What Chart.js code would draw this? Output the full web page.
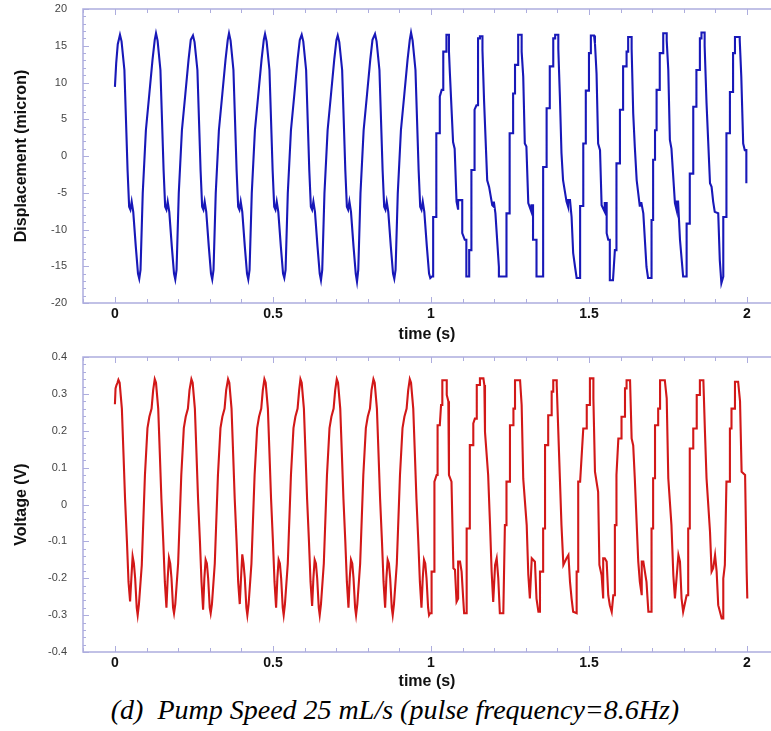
<!DOCTYPE html>
<html>
<head>
<meta charset="utf-8">
<script src="https://cdn.jsdelivr.net/npm/chart.js@4.4.1/dist/chart.umd.min.js"></script>
<style>
  body { margin: 0; background: #fff; }
  #wrap { position: relative; width: 771px; height: 731px; overflow: hidden; }
  canvas { position: absolute; left: 0; }
  #topChart { top: 0; }
  #bottomChart { top: 346px; }
  #caption {
    position: absolute; left: 0; width: 790px; top: 694px;
    text-align: center; white-space: pre; line-height: 31px;
    font-family: "Liberation Serif", "Times New Roman", serif;
    font-style: italic; font-size: 28px; color: #000;
  }
</style>
</head>
<body>
<div id="wrap">
  <canvas id="topChart" width="771" height="346"></canvas>
  <canvas id="bottomChart" width="771" height="346"></canvas>
  <div id="caption">(d)  Pump Speed 25 mL/s (pulse frequency=8.6Hz)</div>
</div>
<script>
// tick labels on the time axis
var timeTicks = [0, 0.5, 1, 1.5, 2];

// displacement (micron) vs time (s)
var displacement = [
    [0, 9.4], [0.004, 12.6], [0.009, 15.2],
    [0.016, 16.5], [0.021, 15.6], [0.030, 11.7], [0.035, 4.9], [0.040, -1.9], [0.045, -6.9], [0.049, -7.3], [0.053, -6.2], [0.058, -7.6], [0.066, -12.3], [0.073, -16.0], [0.077, -16.7], [0.081, -15.5], [0.088, -5.1], [0.098, 3.5], [0.109, 8.5], [0.119, 13.1], [0.126, 15.8],
    [0.130, 16.7], [0.135, 15.7], [0.144, 11.7], [0.149, 4.9], [0.154, -1.9], [0.159, -6.9], [0.163, -7.3], [0.167, -6.2], [0.172, -7.6], [0.180, -12.3], [0.187, -16.0], [0.191, -16.8], [0.195, -15.5], [0.202, -5.1], [0.212, 3.5], [0.223, 8.5], [0.233, 13.1], [0.240, 15.8],
    [0.247, 16.4], [0.252, 15.5], [0.261, 11.7], [0.266, 4.9], [0.271, -1.9], [0.276, -6.9], [0.280, -7.3], [0.284, -6.2], [0.289, -7.6], [0.297, -12.3], [0.304, -16.0], [0.308, -16.8], [0.312, -15.5], [0.319, -5.1], [0.329, 3.5], [0.340, 8.5], [0.350, 13.1], [0.357, 15.8],
    [0.361, 16.7], [0.366, 15.7], [0.375, 11.7], [0.380, 4.9], [0.385, -1.9], [0.390, -6.9], [0.394, -7.3], [0.398, -6.2], [0.403, -7.6], [0.411, -12.3], [0.418, -16.0], [0.422, -16.8], [0.426, -15.5], [0.433, -5.1], [0.443, 3.5], [0.454, 8.5], [0.464, 13.1], [0.471, 15.8],
    [0.475, 16.6], [0.480, 15.6], [0.489, 11.7], [0.494, 4.9], [0.499, -1.9], [0.504, -6.9], [0.508, -7.3], [0.512, -6.2], [0.517, -7.6], [0.525, -12.3], [0.532, -16.0], [0.536, -16.6], [0.540, -15.5], [0.547, -5.1], [0.557, 3.5], [0.568, 8.5], [0.578, 13.1], [0.585, 15.8],
    [0.591, 16.5], [0.596, 15.6], [0.605, 11.7], [0.610, 4.9], [0.615, -1.9], [0.620, -6.9], [0.624, -7.3], [0.628, -6.2], [0.633, -7.6], [0.641, -12.3], [0.648, -16.0], [0.652, -16.9], [0.656, -15.5], [0.663, -5.1], [0.673, 3.5], [0.684, 8.5], [0.694, 13.1], [0.701, 15.8],
    [0.705, 16.4], [0.710, 15.5], [0.719, 11.7], [0.724, 4.9], [0.729, -1.9], [0.734, -6.9], [0.738, -7.3], [0.742, -6.2], [0.747, -7.6], [0.755, -12.3], [0.762, -16.0], [0.766, -17.1], [0.770, -15.5], [0.777, -5.1], [0.787, 3.5], [0.798, 8.5], [0.808, 13.1], [0.815, 15.8],
    [0.823, 16.6], [0.828, 15.6], [0.837, 11.7], [0.842, 4.9], [0.847, -1.9], [0.852, -6.9], [0.856, -7.3], [0.860, -6.2], [0.865, -7.6], [0.873, -12.3], [0.880, -16.0], [0.884, -16.7], [0.888, -15.5], [0.895, -5.1], [0.905, 3.5], [0.916, 8.5], [0.926, 13.1], [0.933, 15.8],
    [0.937, 16.8], [0.942, 15.7], [0.951, 11.7], [0.956, 4.9], [0.961, -1.9], [0.966, -6.9], [0.970, -7.3], [0.974, -6.2], [0.979, -7.6], [0.987, -12.3], [0.994, -16.0], [0.998, -16.6], [1.003, -16.4],
    // second half: stair-stepped signal
    [1.007, -16.4], [1.007, -8.3], [1.017, -8.3], [1.017, 3.1], [1.028, 3.1], [1.028, 8.1], [1.034, 9.0], [1.039, 9.0], [1.039, 14.2], [1.049, 14.2], [1.049, 16.5], [1.057, 16.5], [1.057, 14.2], [1.060, 11.2], [1.070, 1.9], [1.075, 1.0], [1.081, -6.2], [1.086, -7.3], [1.086, -6.0], [1.099, -6.0], [1.099, -10.5], [1.107, -11.4], [1.112, -11.4], [1.112, -16.4],
    [1.121, -16.4], [1.121, -12.8], [1.128, -12.8], [1.128, -1.9], [1.138, -1.9], [1.138, 6.3], [1.144, 6.9], [1.149, 6.9], [1.149, 16.0], [1.155, 16.0], [1.155, 16.3], [1.163, 16.3], [1.163, 14.4], [1.168, 7.6], [1.178, -3.3], [1.184, -4.2], [1.194, -6.7], [1.199, -6.9], [1.199, -6.2], [1.204, -7.8], [1.215, -15.1], [1.215, -16.4],
    [1.239, -16.4], [1.239, -7.8], [1.249, -7.8], [1.249, 3.1], [1.260, 3.1], [1.260, 8.5], [1.266, 8.5], [1.266, 12.4], [1.276, 12.4], [1.276, 16.5], [1.287, 16.5], [1.287, 14.2], [1.292, 10.8], [1.297, 1.7], [1.302, 1.3], [1.308, -6.4], [1.318, -7.6], [1.318, -6.7], [1.323, -6.7], [1.323, -11.4], [1.334, -11.4], [1.334, -16.4],
    [1.355, -16.4], [1.355, -1.5], [1.366, -1.5], [1.366, 6.5], [1.376, 6.5], [1.376, 12.2], [1.387, 12.2], [1.387, 16.0], [1.393, 16.0], [1.393, 16.5], [1.403, 16.5], [1.403, 14.6], [1.408, 8.1], [1.413, 0.4], [1.418, -3.3], [1.429, -6.2], [1.434, -6.9], [1.434, -6.0], [1.440, -6.0], [1.445, -8.3], [1.450, -13.2], [1.456, -15.1], [1.461, -16.6],
    [1.472, -16.6], [1.472, -6.8], [1.482, -6.8], [1.482, 1.7], [1.490, 1.7], [1.490, 8.9], [1.500, 8.9], [1.500, 14.0], [1.506, 14.0], [1.506, 16.4], [1.516, 16.4], [1.519, 15.3], [1.524, 11.2], [1.529, 1.7], [1.535, 0.8], [1.540, -6.7], [1.550, -7.6], [1.550, -6.4], [1.556, -6.4], [1.556, -10.5], [1.561, -11.4], [1.566, -11.4], [1.566, -16.9], [1.576, -16.9],
    [1.582, -12.8], [1.587, -12.8], [1.587, -1.0], [1.598, -1.0], [1.598, 6.3], [1.608, 6.3], [1.608, 12.2], [1.619, 12.2], [1.619, 14.2], [1.624, 14.2], [1.624, 16.2], [1.635, 16.2], [1.635, 14.6], [1.640, 5.8], [1.645, 1.3], [1.651, -3.3], [1.661, -6.9], [1.661, -6.4], [1.666, -6.4], [1.672, -7.8], [1.682, -15.1], [1.687, -16.6],
    [1.698, -16.6], [1.698, -8.7], [1.703, -8.7], [1.703, -0.5], [1.709, -0.5], [1.709, 3.5], [1.714, 3.5], [1.714, 9.0], [1.724, 9.0], [1.724, 14.0], [1.735, 14.0], [1.735, 16.7], [1.746, 16.7], [1.746, 15.7], [1.751, 11.7], [1.756, 2.2], [1.761, 1.0], [1.772, -6.4], [1.777, -7.3], [1.777, -6.2], [1.782, -6.2], [1.788, -11.4], [1.798, -16.4],
    [1.809, -16.4], [1.809, -9.2], [1.819, -9.2], [1.819, -2.4], [1.830, -2.4], [1.830, 6.7], [1.840, 6.7], [1.840, 11.7], [1.851, 11.7], [1.851, 16.0], [1.856, 16.0], [1.856, 16.8], [1.866, 16.8], [1.866, 15.0], [1.872, 7.2], [1.883, -3.7], [1.888, -4.2], [1.893, -6.2], [1.898, -7.6], [1.909, -7.8], [1.914, -14.2], [1.919, -17.3],
    [1.925, -16.4], [1.925, -8.3], [1.935, -8.3], [1.935, 3.1], [1.946, 3.1], [1.946, 8.7], [1.956, 8.7], [1.956, 14.0], [1.962, 14.0], [1.962, 16.2], [1.977, 16.2], [1.977, 15.8], [1.982, 10.8], [1.988, 1.7], [1.993, 0.8], [1.998, 0.8], [1.998, -3.7]
];

// voltage (V) vs time (s)
var voltage = [
    [0, 0.272], [0.002, 0.315], [0.005, 0.324], [0.008, 0.33],
    [0.011, 0.338], [0.015, 0.33], [0.022, 0.26], [0.027, 0.14], [0.032, 0.017], [0.038, -0.10], [0.043, -0.21], [0.048, -0.263], [0.052, -0.20], [0.056, -0.141], [0.060, -0.16], [0.064, -0.20], [0.069, -0.28], [0.072, -0.30], [0.076, -0.27], [0.085, -0.164], [0.095, 0.08], [0.103, 0.207], [0.109, 0.238], [0.116, 0.26], [0.121, 0.31],
    [0.126, 0.34], [0.130, 0.33], [0.137, 0.26], [0.142, 0.14], [0.147, 0.017], [0.153, -0.10], [0.158, -0.21], [0.163, -0.28], [0.167, -0.20], [0.171, -0.145], [0.175, -0.16], [0.179, -0.20], [0.184, -0.28], [0.187, -0.295], [0.191, -0.27], [0.200, -0.16], [0.210, 0.08], [0.218, 0.207], [0.224, 0.238], [0.231, 0.26], [0.236, 0.31],
    [0.242, 0.34], [0.246, 0.33], [0.253, 0.26], [0.258, 0.14], [0.263, 0.017], [0.269, -0.10], [0.274, -0.21], [0.279, -0.285], [0.283, -0.20], [0.287, -0.15], [0.291, -0.16], [0.295, -0.20], [0.300, -0.28], [0.303, -0.295], [0.307, -0.27], [0.316, -0.16], [0.326, 0.08], [0.334, 0.207], [0.340, 0.238], [0.347, 0.26], [0.352, 0.31],
    [0.358, 0.34], [0.362, 0.33], [0.369, 0.26], [0.374, 0.14], [0.379, 0.017], [0.385, -0.10], [0.390, -0.21], [0.395, -0.27], [0.399, -0.20], [0.403, -0.135], [0.407, -0.16], [0.411, -0.20], [0.416, -0.28], [0.419, -0.30], [0.423, -0.27], [0.432, -0.16], [0.442, 0.08], [0.450, 0.207], [0.456, 0.238], [0.463, 0.26], [0.468, 0.31],
    [0.473, 0.34], [0.477, 0.33], [0.484, 0.26], [0.489, 0.14], [0.494, 0.017], [0.500, -0.10], [0.505, -0.21], [0.510, -0.28], [0.514, -0.20], [0.518, -0.15], [0.522, -0.16], [0.526, -0.20], [0.531, -0.28], [0.534, -0.30], [0.538, -0.27], [0.547, -0.16], [0.557, 0.08], [0.565, 0.207], [0.571, 0.238], [0.578, 0.26], [0.583, 0.31],
    [0.587, 0.34], [0.591, 0.33], [0.598, 0.26], [0.603, 0.14], [0.608, 0.017], [0.614, -0.10], [0.619, -0.21], [0.624, -0.275], [0.628, -0.20], [0.632, -0.15], [0.636, -0.16], [0.640, -0.20], [0.645, -0.28], [0.648, -0.30], [0.652, -0.27], [0.661, -0.16], [0.671, 0.08], [0.679, 0.207], [0.685, 0.238], [0.692, 0.26], [0.697, 0.31],
    [0.702, 0.34], [0.706, 0.33], [0.713, 0.26], [0.718, 0.14], [0.723, 0.017], [0.729, -0.10], [0.734, -0.21], [0.739, -0.28], [0.743, -0.20], [0.747, -0.15], [0.751, -0.16], [0.755, -0.20], [0.760, -0.28], [0.763, -0.30], [0.767, -0.27], [0.776, -0.16], [0.786, 0.08], [0.794, 0.207], [0.800, 0.238], [0.807, 0.26], [0.812, 0.31],
    [0.818, 0.34], [0.822, 0.33], [0.829, 0.26], [0.834, 0.14], [0.839, 0.017], [0.845, -0.10], [0.850, -0.21], [0.855, -0.28], [0.859, -0.20], [0.863, -0.15], [0.867, -0.16], [0.871, -0.20], [0.876, -0.28], [0.879, -0.30], [0.883, -0.27], [0.892, -0.16], [0.902, 0.08], [0.910, 0.207], [0.916, 0.238], [0.923, 0.26], [0.928, 0.31],
    [0.933, 0.34], [0.937, 0.33], [0.944, 0.26], [0.949, 0.14], [0.954, 0.017], [0.960, -0.10], [0.965, -0.21], [0.970, -0.28], [0.974, -0.20], [0.978, -0.15], [0.982, -0.16], [0.986, -0.20], [0.991, -0.28], [0.994, -0.30], [0.997, -0.295],
    // second half: stair-stepped signal
    [1.002, -0.295], [1.002, -0.182], [1.011, -0.182], [1.011, 0.062], [1.018, 0.08], [1.021, 0.08], [1.021, 0.215], [1.028, 0.215], [1.032, 0.27], [1.036, 0.27], [1.036, 0.337], [1.050, 0.337], [1.050, 0.297], [1.055, 0.28], [1.057, 0.08], [1.065, 0.062], [1.071, -0.173], [1.076, -0.177], [1.081, -0.264], [1.086, -0.255], [1.086, -0.155], [1.092, -0.155], [1.097, -0.182], [1.102, -0.255], [1.105, -0.295], [1.110, -0.295],
    [1.113, -0.295], [1.113, -0.065], [1.123, -0.065], [1.123, 0.161], [1.134, 0.161], [1.134, 0.22], [1.139, 0.233], [1.145, 0.233], [1.145, 0.324], [1.155, 0.324], [1.155, 0.342], [1.166, 0.342], [1.169, 0.324], [1.171, 0.197], [1.181, 0.08], [1.187, -0.056], [1.192, -0.182], [1.197, -0.264], [1.203, -0.164], [1.208, -0.146], [1.213, -0.2], [1.218, -0.295], [1.229, -0.295],
    [1.234, -0.056], [1.239, -0.056], [1.239, 0.062], [1.250, 0.062], [1.250, 0.215], [1.261, 0.215], [1.261, 0.26], [1.266, 0.26], [1.266, 0.337], [1.282, 0.337], [1.287, 0.27], [1.292, 0.07], [1.303, -0.056], [1.308, -0.19], [1.313, -0.255], [1.319, -0.146], [1.329, -0.155], [1.334, -0.255], [1.340, -0.291], [1.345, -0.291],
    [1.345, -0.182], [1.355, -0.182], [1.355, -0.065], [1.361, -0.065], [1.361, 0.161], [1.371, 0.161], [1.371, 0.242], [1.382, 0.242], [1.382, 0.306], [1.387, 0.306], [1.387, 0.337], [1.398, 0.337], [1.398, 0.324], [1.403, 0.197], [1.413, -0.056], [1.419, -0.164], [1.429, -0.146], [1.435, -0.137], [1.440, -0.21], [1.445, -0.255], [1.450, -0.291], [1.461, -0.295],
    [1.461, -0.182], [1.466, -0.182], [1.466, 0.062], [1.472, 0.062], [1.482, 0.206], [1.493, 0.206], [1.493, 0.27], [1.503, 0.27], [1.503, 0.342], [1.514, 0.342], [1.514, 0.288], [1.519, 0.089], [1.529, 0.034], [1.533, -0.164], [1.540, -0.192], [1.545, -0.255], [1.545, -0.146], [1.550, -0.146], [1.556, -0.155], [1.561, -0.246], [1.566, -0.273], [1.572, -0.291], [1.577, -0.246],
    [1.582, -0.246], [1.582, -0.056], [1.587, -0.056], [1.587, 0.08], [1.593, 0.179], [1.603, 0.179], [1.603, 0.238], [1.614, 0.238], [1.614, 0.315], [1.619, 0.315], [1.619, 0.337], [1.630, 0.337], [1.635, 0.179], [1.640, 0.16], [1.645, 0.071], [1.656, -0.155], [1.661, -0.21], [1.667, -0.246], [1.667, -0.155], [1.672, -0.155], [1.682, -0.21], [1.688, -0.291], [1.693, -0.291],
    [1.698, -0.291], [1.698, -0.065], [1.703, -0.065], [1.703, 0.071], [1.709, 0.071], [1.709, 0.215], [1.719, 0.215], [1.719, 0.26], [1.725, 0.26], [1.725, 0.337], [1.740, 0.337], [1.746, 0.288], [1.751, 0.071], [1.761, -0.056], [1.767, -0.192], [1.772, -0.255], [1.783, -0.137], [1.788, -0.155], [1.793, -0.255], [1.798, -0.291], [1.809, -0.246],
    [1.814, -0.246], [1.814, -0.065], [1.819, -0.065], [1.819, 0.152], [1.830, 0.152], [1.830, 0.206], [1.841, 0.206], [1.841, 0.297], [1.851, 0.297], [1.851, 0.337], [1.862, 0.337], [1.867, 0.197], [1.872, 0.071], [1.883, -0.074], [1.888, -0.182], [1.893, -0.173], [1.899, -0.137], [1.904, -0.182], [1.909, -0.273], [1.920, -0.309],
    [1.925, -0.309], [1.925, -0.201], [1.930, -0.164], [1.935, 0.062], [1.946, 0.062], [1.946, 0.206], [1.951, 0.206], [1.951, 0.26], [1.962, 0.26], [1.962, 0.333], [1.972, 0.333], [1.978, 0.28], [1.983, 0.089], [1.994, 0.08], [1.999, -0.182], [2.001, -0.255]
];

var FONT = '"Liberation Sans", Arial, sans-serif';
var FRAME = '#adadde';

// box round the plot area plus the little inward ticks, placed with the scales
var framePlugin = {
    id: 'frame',
    beforeDatasetsDraw: function (chart, args, opts) {
        var ctx = chart.ctx, a = chart.chartArea;
        var xs = chart.scales.x, ys = chart.scales.y;
        ctx.save();
        ctx.strokeStyle = FRAME;
        ctx.lineWidth = 1.5;
        ctx.strokeRect(a.left, a.top, a.right - a.left + 5, a.bottom - a.top);
        ctx.lineWidth = 1;
        ctx.beginPath();
        var n, v, px, len;
        for (n = Math.ceil(xs.min / opts.xMinor); n * opts.xMinor <= xs.max; n++) {
            v = n * opts.xMinor;
            px = Math.round(xs.getPixelForValue(v)) + 0.5;
            len = (n % opts.xEvery === 0) ? 6 : 4;
            ctx.moveTo(px, a.bottom); ctx.lineTo(px, a.bottom - len);
            ctx.moveTo(px, a.top); ctx.lineTo(px, a.top + len);
        }
        for (n = Math.ceil(ys.min / opts.yMinor - 1e-6); n * opts.yMinor <= ys.max + 1e-9; n++) {
            v = n * opts.yMinor;
            px = Math.round(ys.getPixelForValue(v)) + 0.5;
            len = (n % opts.yEvery === 0) ? 6 : 3;
            ctx.moveTo(a.left, px); ctx.lineTo(a.left + len, px);
        }
        ctx.stroke();
        ctx.restore();
    }
};

function makePanel(canvasId, points, color, yTitle, yMin, yMax, yStep, yMinor, padTop, xHeight, titlePad) {
    return new Chart(document.getElementById(canvasId), {
        type: 'line',
        data: {
            datasets: [{
                data: points.map(function (p) { return { x: p[0], y: p[1] }; }),
                borderColor: color,
                borderWidth: 2.1,
                pointRadius: 0,
                tension: 0,
                fill: false
            }]
        },
        plugins: [framePlugin],
        options: {
            responsive: false,
            animation: false,
            devicePixelRatio: 1,
            layout: { padding: { top: padTop, right: 0, bottom: 0, left: 0 } },
            plugins: {
                legend: { display: false },
                tooltip: { enabled: false },
                frame: { xMinor: 0.1, xEvery: 5, yMinor: yMinor, yEvery: Math.round(yStep / yMinor) }
            },
            scales: {
                x: {
                    type: 'linear',
                    min: -0.101,
                    max: 2.076,
                    afterBuildTicks: function (s) {
                        s.ticks = timeTicks.map(function (t) { return { value: t }; });
                    },
                    afterFit: function (s) { s.height = xHeight; },
                    ticks: {
                        autoSkip: false, maxRotation: 0, padding: 3,
                        color: '#111',
                        font: { family: FONT, size: 14, weight: 'bold' },
                        callback: function (v) { return String(v); }
                    },
                    grid: { display: false, drawTicks: false },
                    border: { display: false },
                    title: {
                        display: true, text: 'time (s)', color: '#111',
                        font: { family: FONT, size: 16, weight: 'bold' },
                        padding: { top: 0, bottom: titlePad }
                    }
                },
                y: {
                    min: yMin,
                    max: yMax,
                    afterFit: function (s) { s.width = 83; },
                    ticks: {
                        stepSize: yStep, padding: 2, color: '#444',
                        font: { family: FONT, size: 11 }
                    },
                    // invisible tick marks only push the labels away from the box
                    grid: { drawOnChartArea: false, drawTicks: true, tickLength: 14, tickColor: 'rgba(0,0,0,0)' },
                    border: { display: false },
                    title: {
                        display: true, text: yTitle, color: '#111',
                        font: { family: FONT, size: 16, weight: 'bold' },
                        padding: { top: 12, bottom: 0 }
                    }
                }
            }
        }
    });
}

makePanel('topChart', displacement, 'rgb(24, 24, 184)', 'Displacement (micron)', -20, 20, 5, 1, 9, 43, 2);
makePanel('bottomChart', voltage, 'rgb(210, 24, 24)', 'Voltage (V)', -0.4, 0.4, 0.1, 0.02, 11, 40, 1);
</script>
</body>
</html>
